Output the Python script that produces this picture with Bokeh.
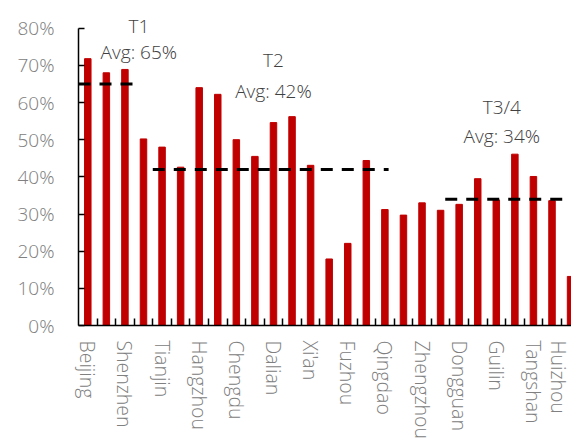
from bokeh.plotting import figure
from bokeh.models import FixedTicker, Range1d, Label, PrintfTickFormatter, ColumnDataSource
from bokeh.embed import file_html
from bokeh.resources import INLINE

# Cities shown on the axis (every other bar carries a label)
shown_labels = ["Beijing", "Shenzhen", "Tianjin", "Hangzhou", "Chengdu", "Dalian",
                "Xi'an", "Fuzhou", "Qingdao", "Zhengzhou", "Dongguan", "Guilin",
                "Tangshan", "Huizhou"]

# Share per city, in percent
rates = [71.8, 68.0, 68.9, 50.2, 48.0, 42.6, 64.0, 62.2, 50.0, 45.5, 54.6, 56.2,
         43.1, 17.9, 22.1, 44.4, 31.2, 29.7, 33.0, 31.0, 32.6, 39.5, 33.8, 46.1,
         40.1, 33.6, 13.2]

# City tiers: name, average, first and last bar index
tier_names = ["T1", "T2", "T3/4"]
tier_avgs = [65, 42, 34]
tier_first = [0, 4, 20]
tier_last = [2, 16, 26]

FONT = "Open Sans Light, Open Sans"
BAR_RED = "#C00000"
AXIS_GREY = "#808080"
TEXT_DARK = "#404040"

idx = list(range(len(rates)))
src = ColumnDataSource(dict(x=idx, top=rates))

# Extra headroom above 80% leaves space for the tier captions
p = figure(width=571, height=443, output_backend="svg", toolbar_location=None,
           x_range=Range1d(-0.5, 26.05), y_range=Range1d(0, 87.45),
           min_border_left=78, min_border_right=0, min_border_top=0,
           min_border_bottom=118)
p.outline_line_color = None
p.grid.visible = False
p.background_fill_color = "white"

p.vbar(x="x", top="top", width=0.35, source=src, color=BAR_RED)

# Dashed tier averages
start_pad = [0.5, 0.5, 0.75]
end_pad = [0.75, 0.2, 0.5]
for first, last, avg, sp, ep in zip(tier_first, tier_last, tier_avgs, start_pad, end_pad):
    p.line(x=[first - sp, last + ep], y=[avg, avg], line_color="black",
           line_width=3, line_dash="12 9")

# Tier captions (title above, average below)
caption_x = [2.75, 10.0, 22.3]
title_offset = [15.7, 29.5, 24.9]
avg_offset = [8.5, 21.2, 17.1]
for name, avg, cx, to, ao in zip(tier_names, tier_avgs, caption_x, title_offset, avg_offset):
    p.add_layout(Label(x=cx, y=avg + to, text=name, text_align="center",
                       text_baseline="middle", text_font=FONT,
                       text_font_size="19px", text_color=TEXT_DARK))
    p.add_layout(Label(x=cx, y=avg + ao, text=f"Avg: {avg}%", text_align="center",
                       text_baseline="middle", text_font=FONT,
                       text_font_size="19px", text_color=TEXT_DARK))

# X axis: labels on every other bar, tick marks between bars
xa = p.xaxis[0]
label_pos = list(range(0, len(rates), 2))
xa.ticker = FixedTicker(ticks=label_pos,
                        minor_ticks=[i + 0.5 for i in range(len(rates) - 1)])
xa.major_label_overrides = {pos: name for pos, name in zip(label_pos, shown_labels)}
xa.major_label_orientation = "vertical"
xa.major_tick_in = 0
xa.major_tick_out = 0
xa.minor_tick_in = 7
xa.minor_tick_out = 0
xa.minor_tick_line_color = "black"
xa.minor_tick_line_width = 1.5
xa.axis_line_color = "black"
xa.axis_line_width = 1.5
xa.major_label_standoff = 15
xa.major_label_text_font = FONT
xa.major_label_text_font_size = "19.5px"
xa.major_label_text_color = AXIS_GREY

# Y axis in percent, line stopping at 80%
ya = p.yaxis[0]
ya.bounds = (0, 80)
ya.ticker = FixedTicker(ticks=list(range(0, 81, 10)))
ya.formatter = PrintfTickFormatter(format="%d%%")
ya.major_tick_in = 6
ya.major_tick_out = 0
ya.major_tick_line_color = "black"
ya.major_tick_line_width = 1.5
ya.minor_tick_line_color = None
ya.axis_line_color = "black"
ya.axis_line_width = 1.5
ya.major_label_standoff = 24
ya.major_label_text_font = FONT
ya.major_label_text_font_size = "19px"
ya.major_label_text_color = AXIS_GREY

open("out.html", "w").write(file_html(p, INLINE))
